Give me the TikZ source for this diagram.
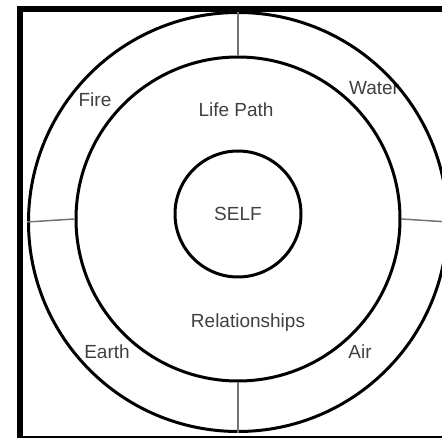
\documentclass[tikz,border=0pt]{standalone}
\usepackage{fontspec}
\setmainfont{Liberation Sans}
\usetikzlibrary{positioning}

\begin{document}
\begin{tikzpicture}[x=1pt, y=-1pt]
   \fontsize{19pt}{22pt}\selectfont
    % --- STYLES ---
    \tikzstyle{ring} = [circle, draw=black, line width=3pt, inner sep=0pt, text=black!75]
    \tikzstyle{word} = [text=black!75, inner sep=0pt]
    \tikzstyle{divider} = [draw=black!55, line width=1.5pt]

    \useasboundingbox (0,0) rectangle (442,438);
    \clip (0,0) rectangle (442,438);

    % --- TEXT ---
    \node (lifepath)  [word] at (236,110) {Life Path};
    \node (relations) [word] at (248,323) {Relationships};
    \node (fire)      [word] at (95,100)  {Fire};
    \node (water)     [word] at (374,88)  {Water};
    \node (earth)     [word] at (107,352) {Earth};
    \node (air)       [word] at (360,352) {Air};

    % --- RINGS ---
    \node (outer) [ring, minimum size=419pt] at (238,222) {};
    \node (inner) [ring, minimum size=324pt] at (238,219) {};
    \node (self)  [ring, minimum size=126pt] at (238,214) {SELF};

    % --- DIVIDERS ---
    \draw[divider] (outer.north) -- (inner.north);
    \draw[divider] (inner.south) -- (outer.south);
    \draw[divider] (outer.west) -- (inner.west);
    \draw[divider] (inner.east) -- (outer.east);

    % frame
    \draw[line width=6pt] (20,445) -- (20,9) -- (450,9);
    \draw[line width=1.5pt] (20,437.2) -- (450,437.2);
\end{tikzpicture}
\end{document}
